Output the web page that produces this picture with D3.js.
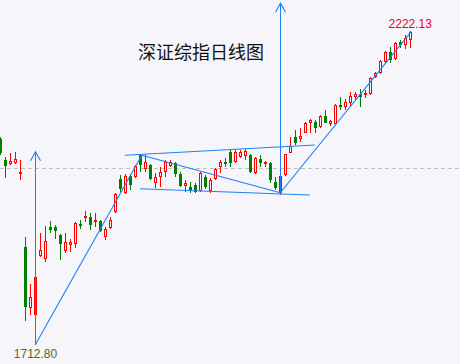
<!DOCTYPE html>
<html>
<head>
<meta charset="utf-8">
<script src="https://cdn.jsdelivr.net/npm/d3@7"></script>
<style>
  body { margin: 0; background: #f5f5fa; }
</style>
</head>
<body>
<div id="chart"></div>
<script>
	// daily candles, oldest first
	var open = [2032,1996,1989,1990,1971,1843,1736,1723,1827,1822,1878,1878,1864,1836,1847,1848,1883,1894,1895,1886,
		1888,1860,1876,1904,1962,1938,1967,1966,2004,1980,1987,1955,1966,1974,1985,1990,1971,1950,1948,1952,
		1941,1966,1941,1962,1983,1992,2010,1992,2001,2003,2004,1973,1997,1989,1990,1957,1938,1969,2008,2036,
		2033,2043,2061,2062,2054,2073,2058,2059,2092,2089,2096,2106,2112,2110,2112,2141,2148,2168,2185,2173,
		2203,2198,2206];
	var close = [2008,1985,1994,1997,1974,1737,1755,1790,1838,1853,1873,1871,1848,1852,1852,1885,1880,1897,1881,1890,
		1871,1874,1890,1936,1945,1967,1952,1985,1987,1992,1962,1966,1974,1992,1992,1971,1950,1955,1942,1939,
		1973,1948,1960,1980,1992,1989,1990,2010,2010,2011,1974,1999,1990,1992,1960,1946,1967,2006,2020,2025,
		2038,2061,2066,2052,2073,2061,2064,2092,2089,2097,2108,2112,2106,2113,2140,2148,2169,2185,2171,2201,
		2198,2210,2220];
	var high = [2036,2001,2008,2010,1996,1860,1778,1792,1867,1880,1888,1881,1866,1867,1857,1887,1890,1906,1903,1903,
		1890,1878,1895,1938,1969,1971,1971,1987,2006,2004,1989,1973,1983,1996,1996,1992,1974,1960,1957,1955,
		1974,1969,1964,1982,1996,1999,2013,2013,2013,2015,2006,2001,2004,1994,1992,1966,1969,2006,2036,2048,
		2052,2062,2068,2066,2075,2083,2066,2094,2106,2103,2115,2115,2120,2119,2141,2150,2171,2187,2194,2203,
		2206,2215,2222.13];
	var low = [2004,1964,1987,1989,1960,1712.80,1723,1722,1825,1816,1867,1857,1820,1832,1834,1841,1874,1887,1873,1878,
		1869,1855,1875,1903,1939,1936,1943,1964,1974,1974,1960,1946,1948,1966,1983,1966,1948,1939,1938,1938,
		1939,1945,1938,1960,1973,1983,1983,1990,1999,1996,1973,1971,1983,1983,1955,1943,1934,1967,2008,2022,
		2027,2043,2043,2043,2052,2061,2055,2057,2083,2083,2089,2101,2089,2104,2110,2140,2147,2166,2166,2171,
		2192,2191,2192];

	var refLevel = 1981;
	var title = "深证综指日线图";
	var maxLabel = "2222.13", minLabel = "1712.80";

	// hand-drawn trend lines, as [candle index, price]
	var trendLines = [
		[[7, 1671], [28.3, 2004]],
		[[24.9, 2004], [62.9, 2022]],
		[[28.3, 2004], [56, 1938]],
		[[27.9, 1945], [61.9, 1934]],
		[[56, 1938], [82.1, 2220]]
	];
	var arrows = [
		[[7, 1671], [7, 2010]],
		[[56, 1938], [56, 2271]]
	];

	var width = 460, height = 364;
	var red = "#ff0000", green = "#008000", blue = "#1e80f0", bg = "#f5f5fa";

	var svg = d3.select("#chart")
		.append("svg")
			.attr("width", width)
			.attr("height", height)
			.style("display", "block");

	svg.append("rect")
		.attr("width", width)
		.attr("height", height)
		.attr("fill", bg);

	var x = d3.scaleLinear().domain([0, 82]).range([0.3, 410.3]);
	var y = d3.scaleLinear().domain([1712.80, 2222.13]).range([321, 31]);

	var candles = open.map(function(o, i) {
		return { i: i, o: o, c: close[i], h: high[i], l: low[i] };
	});

	// reference dashed line
	svg.append("line")
		.attr("x1", 0).attr("x2", width)
		.attr("y1", Math.round(y(refLevel)) + 0.5)
		.attr("y2", Math.round(y(refLevel)) + 0.5)
		.attr("stroke", "#c0c0c0")
		.attr("stroke-dasharray", "4,3");

	var cx = function(d) { return Math.round(x(d.i)); };
	var up = function(d) { return d.c >= d.o; };

	var g = svg.selectAll(".candle")
		.data(candles)
		.enter().append("g")
			.attr("class", "candle");

	g.append("line")
		.attr("x1", function(d) { return cx(d) + 0.5; })
		.attr("x2", function(d) { return cx(d) + 0.5; })
		.attr("y1", function(d) { return Math.round(y(d.h)); })
		.attr("y2", function(d) { return Math.round(y(d.l)); })
		.attr("stroke", function(d) { return up(d) ? red : green; });

	// up days: hollow red, down days: solid green
	g.filter(up).append("rect")
		.attr("x", function(d) { return cx(d) - 0.5; })
		.attr("y", function(d) { return Math.round(y(d.c)) + 0.5; })
		.attr("width", 2)
		.attr("height", function(d) { return Math.max(1, Math.round(y(d.o)) - Math.round(y(d.c)) - 1); })
		.attr("fill", bg)
		.attr("stroke", red);

	g.filter(function(d) { return !up(d); }).append("rect")
		.attr("x", function(d) { return cx(d) - 1; })
		.attr("y", function(d) { return Math.round(y(d.o)); })
		.attr("width", 3)
		.attr("height", function(d) { return Math.max(1, Math.round(y(d.c)) - Math.round(y(d.o))); })
		.attr("fill", green);

	// trend lines
	var line = d3.line()
		.x(function(p) { return x(p[0]); })
		.y(function(p) { return y(p[1]); });

	svg.selectAll(".trend")
		.data(trendLines)
		.enter().append("path")
			.attr("class", "trend")
			.attr("d", line)
			.attr("fill", "none")
			.attr("stroke", blue)
			.attr("stroke-width", 1.1);

	arrows.forEach(function(a) {
		var ax = Math.floor(x(a[0][0])) + 0.5,
			y0 = y(a[0][1]),
			y1 = y(a[1][1]);
		svg.append("line")
			.attr("x1", ax).attr("x2", ax)
			.attr("y1", y0).attr("y2", y1)
			.attr("stroke", blue);
		svg.append("path")
			.attr("d", "M" + (ax - 5) + "," + (y1 + 9) + "L" + ax + "," + y1 + "L" + (ax + 5) + "," + (y1 + 9))
			.attr("fill", "none")
			.attr("stroke", blue)
			.attr("stroke-width", 1.1);
	});

	// labels
	svg.append("text")
		.attr("x", x(82))
		.attr("y", y(high[82]) - 3)
		.attr("text-anchor", "middle")
		.attr("font-family", "'Liberation Sans', Arial, sans-serif")
		.attr("font-size", "12px")
		.attr("fill", "#e8001c")
		.text(maxLabel);

	svg.append("text")
		.attr("x", Math.floor(x(7)) + 0.5)
		.attr("y", y(1671) + 13)
		.attr("text-anchor", "middle")
		.attr("font-family", "'Liberation Sans', Arial, sans-serif")
		.attr("font-size", "12px")
		.attr("fill", "#56691c")
		.text(minLabel);

	svg.append("text")
		.attr("x", 201)
		.attr("y", 59)
		.attr("text-anchor", "middle")
		.attr("font-family", "'Noto Sans CJK SC', sans-serif")
		.attr("font-size", "18px")
		.attr("fill", "#111")
		.text(title);
</script>
</body>
</html>
